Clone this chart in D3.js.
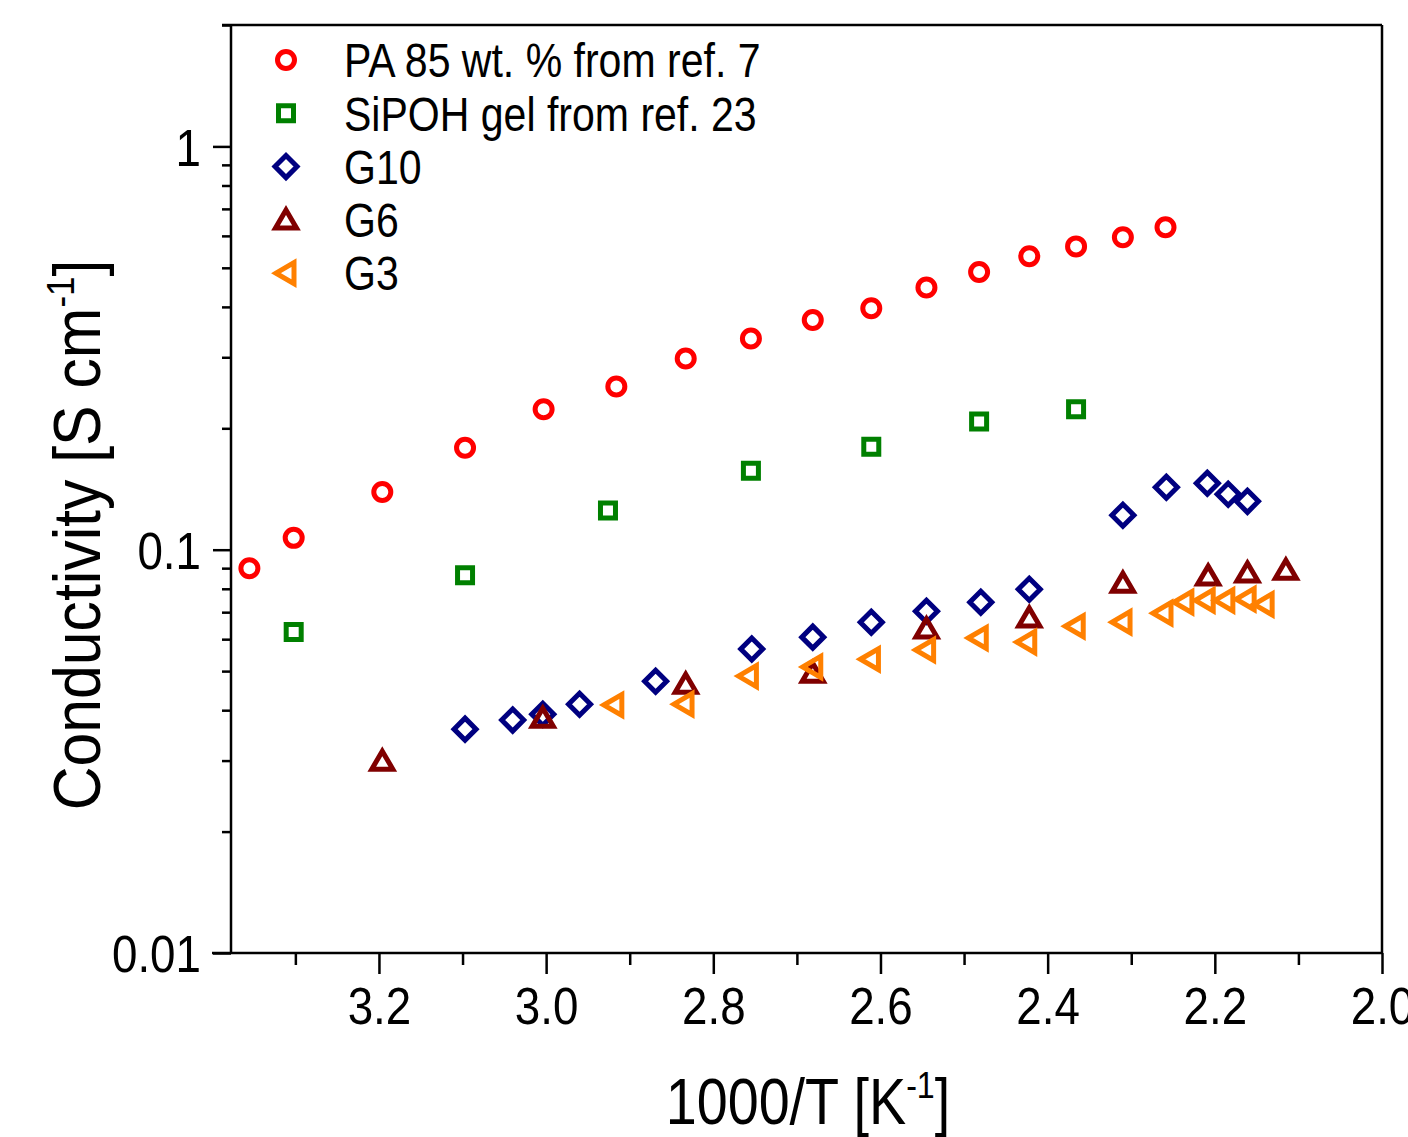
<!DOCTYPE html>
<html>
<head>
<meta charset="utf-8">
<script src="https://cdn.jsdelivr.net/npm/d3@7"></script>
<style>
  html, body { margin: 0; padding: 0; background: #fff; }
  svg { display: block; }
  text { font-family: "Liberation Sans", Arial, sans-serif; fill: #000; }
</style>
</head>
<body>
<svg id="chart" width="1408" height="1137"></svg>
<script>
// Conductivity vs inverse temperature (Arrhenius-style plot)
const seriesNames = ["PA 85 wt. % from ref. 7", "SiPOH gel from ref. 23", "G10", "G6", "G3"];
const seriesColors = ["#ff0000", "#008000", "#000080", "#800000", "#ff8000"];
const seriesSymbols = ["circle", "square", "diamond", "triangle", "triangleLeft"];

const paX = [3.355, 3.302, 3.196, 3.097, 3.003, 2.916, 2.833, 2.755, 2.681, 2.611, 2.545, 2.482, 2.422, 2.366, 2.310, 2.259];
const paY = [0.090, 0.107, 0.139, 0.179, 0.223, 0.254, 0.298, 0.334, 0.371, 0.397, 0.447, 0.488, 0.534, 0.565, 0.595, 0.630];

const sipohX = [3.302, 3.097, 2.926, 2.755, 2.611, 2.482, 2.366];
const sipohY = [0.0625, 0.0864, 0.125, 0.157, 0.180, 0.208, 0.223];

const g10X = [3.097, 3.040, 3.004, 2.960, 2.869, 2.754, 2.681, 2.611, 2.545, 2.480, 2.422, 2.310, 2.258, 2.209, 2.184, 2.161];
const g10Y = [0.0359, 0.0378, 0.0391, 0.0414, 0.0472, 0.0567, 0.0607, 0.0661, 0.0704, 0.0741, 0.0798, 0.1218, 0.1429, 0.1462, 0.1373, 0.1318];

const g6X = [3.196, 3.004, 2.833, 2.681, 2.545, 2.422, 2.310, 2.208, 2.161, 2.115];
const g6Y = [0.0299, 0.0382, 0.0464, 0.0494, 0.0636, 0.0677, 0.0826, 0.0860, 0.0875, 0.0889];

const g3X = [2.919, 2.835, 2.758, 2.681, 2.612, 2.546, 2.483, 2.425, 2.367, 2.311, 2.262, 2.237, 2.2115, 2.188, 2.1625, 2.141];
const g3Y = [0.0412, 0.0414, 0.0486, 0.0512, 0.0535, 0.0564, 0.0604, 0.0590, 0.0646, 0.0661, 0.0696, 0.0741, 0.0749, 0.0749, 0.0754, 0.0732];

const xMajorTicks = [3.2, 3.0, 2.8, 2.6, 2.4, 2.2, 2.0];
const xMinorTicks = [3.3, 3.1, 2.9, 2.7, 2.5, 2.3, 2.1];
const yMajorTicks = [0.01, 0.1, 1];
const yTickLabels = ["0.01", "0.1", "1"];

const allX = [paX, sipohX, g10X, g6X, g3X];
const allY = [paY, sipohY, g10Y, g6Y, g3Y];

const svg = d3.select("#chart");
const plotLeft = 231, plotRight = 1382, plotTop = 25, plotBottom = 953;
// horizontal squeeze applied to the lettering (condensed look)
const tickSqueeze = 0.88, legendSqueeze = 0.855, xTitleSqueeze = 0.87, yTitleSqueeze = 0.92;

const x = d3.scaleLinear().domain([3.377, 2.0]).range([plotLeft, plotRight]);
const y = d3.scaleLog().domain([0.01, 2]).range([plotBottom, plotTop]);

// frame: top and right lines
svg.append("line").attr("x1", 222).attr("x2", plotRight).attr("y1", plotTop).attr("y2", plotTop)
  .attr("stroke", "#000").attr("stroke-width", 2.5);
svg.append("line").attr("x1", plotRight).attr("x2", plotRight).attr("y1", plotTop).attr("y2", plotBottom)
  .attr("stroke", "#000").attr("stroke-width", 2.5);

// x axis
const xAxisMinor = svg.append("g").attr("transform", `translate(0,${plotBottom})`);
xAxisMinor.call(d3.axisBottom(x).tickValues(xMinorTicks).tickSize(12).tickFormat(""));
xAxisMinor.select(".domain").remove();
const xAxisMajor = svg.append("g").attr("transform", `translate(0,${plotBottom})`);
xAxisMajor.call(d3.axisBottom(x).tickValues(xMajorTicks).tickSize(21).tickPadding(8).tickFormat(d3.format(".1f")));
xAxisMajor.select(".domain").remove();
xAxisMajor.selectAll(".tick text")
  .attr("font-size", 52).attr("dy", "0.78em").attr("y", 30)
  .attr("transform", `scale(${tickSqueeze},1)`);
svg.append("line").attr("x1", 212).attr("x2", plotRight).attr("y1", plotBottom).attr("y2", plotBottom)
  .attr("stroke", "#000").attr("stroke-width", 2.5);

// y axis: minor ticks at 2..9 of each decade
const yMinor = [];
[0.01, 0.1, 1].forEach(d => { for (let k = 2; k <= 9; k++) { const v = d * k; if (v <= 2) yMinor.push(v); } });
const yAxisMinor = svg.append("g").attr("transform", `translate(${plotLeft},0)`);
yAxisMinor.call(d3.axisLeft(y).tickValues(yMinor).tickSize(9).tickFormat(""));
yAxisMinor.select(".domain").remove();
const yAxisMajor = svg.append("g").attr("transform", `translate(${plotLeft},0)`);
yAxisMajor.call(d3.axisLeft(y).tickValues(yMajorTicks).tickSize(18).tickPadding(10)
  .tickFormat((d, i) => yTickLabels[i]));
yAxisMajor.select(".domain").remove();
yAxisMajor.selectAll(".tick text").attr("font-size", 52).attr("dy", "0.36em")
  .attr("x", -30 / tickSqueeze)
  .attr("transform", `scale(${tickSqueeze},1)`);
svg.selectAll(".tick line").attr("stroke", "#000").attr("stroke-width", 2.5);
svg.append("line").attr("x1", plotLeft).attr("x2", plotLeft).attr("y1", plotTop).attr("y2", plotBottom)
  .attr("stroke", "#000").attr("stroke-width", 2.5);

// axis titles
const yt = svg.append("text")
  .attr("transform", `translate(100,535) rotate(-90) scale(${yTitleSqueeze},1)`)
  .attr("text-anchor", "middle").attr("font-size", 66);
yt.append("tspan").text("Conductivity [S cm");
yt.append("tspan").text("-1").attr("font-size", 38).attr("dy", -26);
yt.append("tspan").text("]").attr("dy", 26);

const xt = svg.append("text")
  .attr("transform", `translate(808,1124) scale(${xTitleSqueeze},1)`)
  .attr("text-anchor", "middle").attr("font-size", 64);
xt.append("tspan").text("1000/T [K");
xt.append("tspan").text("-1").attr("font-size", 37).attr("dy", -26);
xt.append("tspan").text("]").attr("dy", 26);

// marker shapes
function markerPath(sym) {
  switch (sym) {
    case "circle": { const p = d3.path(); p.arc(0, 0, 8.5, 0, 2 * Math.PI); return p.toString(); }
    case "square": return "M-7.5,-7.5H7.5V7.5H-7.5Z";
    case "diamond": return "M0,-11L11,0L0,11L-11,0Z";
    case "triangle": return "M0,-10L10.5,8L-10.5,8Z";
    case "triangleLeft": return "M-10,0L8,-10.5L8,10.5Z";
  }
}

const plot = svg.append("g");
[0, 1, 2, 3, 4].forEach(si => {
  const pts = allX[si].map((v, i) => [v, allY[si][i]]);
  plot.append("g").selectAll("path").data(pts).join("path")
    .attr("d", markerPath(seriesSymbols[si]))
    .attr("transform", d => `translate(${x(d[0])},${y(d[1])})`)
    .attr("fill", "none")
    .attr("stroke", seriesColors[si])
    .attr("stroke-width", 5)
    .attr("stroke-linejoin", "miter");
});

// legend
const legend = svg.append("g");
seriesNames.forEach((name, i) => {
  const ly = 60 + i * 53.3;
  legend.append("path")
    .attr("d", markerPath(seriesSymbols[i]))
    .attr("transform", `translate(286,${ly})`)
    .attr("fill", "none").attr("stroke", seriesColors[i]).attr("stroke-width", 5);
  legend.append("text")
    .attr("transform", `translate(344,${ly}) scale(${legendSqueeze},1)`)
    .attr("dy", "0.36em")
    .attr("font-size", 48).text(name);
});
</script>
</body>
</html>
